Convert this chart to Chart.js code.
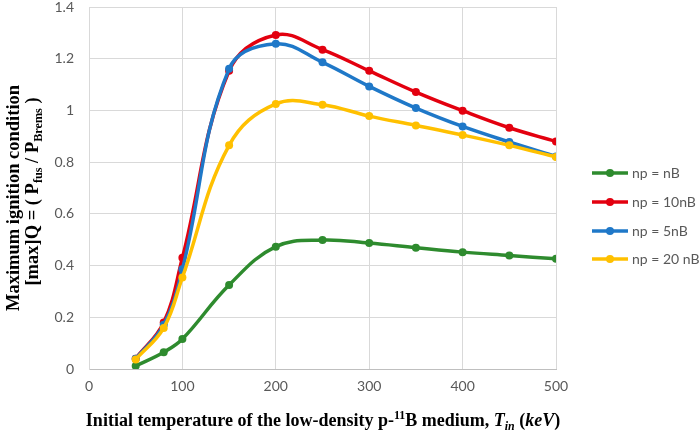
<!DOCTYPE html>
<html>
<head>
<meta charset="utf-8">
<script src="https://cdn.jsdelivr.net/npm/chart.js@4.4.1/dist/chart.umd.min.js"></script>
<style>
  html, body { margin: 0; padding: 0; background: #fff; }
  #wrap { width: 699px; height: 432px; position: relative; }
</style>
</head>
<body>
<div id="wrap"><canvas id="myChart"></canvas></div>
<script>
// temperatures (keV)
const temps = [50, 80, 100, 150, 200, 250, 300, 350, 400, 450, 500]

// max Q for each density ratio
const qNB   = [0.012, 0.065, 0.116, 0.325, 0.473, 0.499, 0.487, 0.469, 0.452, 0.439, 0.426]
const q10NB = [0.04, 0.18, 0.43, 1.153, 1.292, 1.235, 1.153, 1.071, 0.999, 0.933, 0.880]
const q5NB  = [0.04, 0.171, 0.386, 1.161, 1.258, 1.186, 1.093, 1.009, 0.938, 0.878, 0.822]
const q20NB = [0.037, 0.159, 0.354, 0.865, 1.025, 1.022, 0.978, 0.942, 0.905, 0.865, 0.820]

const seriesNames = ["np = nB", "np = 10nB", "np = 5nB", "np = 20 nB"]
const seriesColors = ["#2e8b2e", "#e3000f", "#1f78c8", "#ffc000"]

const xTicks = [0, 100, 200, 300, 400, 500]
const yTicks = ["0", "0.2", "0.4", "0.6", "0.8", "1", "1.2", "1.4"]

const toPoints = (vals) => temps.map((t, i) => ({ x: t, y: vals[i] }))
const allSeries = [qNB, q10NB, q5NB, q20NB]

const datasets = allSeries.map((vals, i) => ({
  label: seriesNames[i],
  data: toPoints(vals),
  borderColor: seriesColors[i],
  backgroundColor: seriesColors[i],
  borderWidth: 3.5,
  pointRadius: 4,
  pointHoverRadius: 4,
  pointBorderWidth: 0,
  tension: 0.4,
  order: 4 - i
}))

const serif = '"Liberation Serif", "Times New Roman", serif'
const sans = 'Lato, "Open Sans", sans-serif'

// draws a line of text made of runs (normal / sub / sup / italic), centred on x
function drawRuns(ctx, runs, x, y, size) {
  const fontFor = (r) => (r.italic ? "italic " : "") + "bold " +
    ((r.sub || r.sup) ? (size * 0.66).toFixed(1) : size) + "px " + serif
  let total = 0
  runs.forEach(r => { ctx.font = fontFor(r); r.w = ctx.measureText(r.t).width; total += r.w })
  let cx = x - total / 2
  ctx.textAlign = "left"
  ctx.textBaseline = "alphabetic"
  runs.forEach(r => {
    ctx.font = fontFor(r)
    let dy = 0
    if (r.sub) dy = size * 0.22
    if (r.sup) dy = -size * 0.38
    ctx.fillText(r.t, cx, y + dy)
    cx += r.w
  })
}

const titlesAndLegend = {
  id: "titlesAndLegend",
  afterDraw(chart) {
    const ctx = chart.ctx
    ctx.save()
    ctx.fillStyle = "#000"

    // x axis title
    drawRuns(ctx, [
      { t: "Initial temperature of the low-density p-" },
      { t: "11", sup: true },
      { t: "B medium, " },
      { t: "T", italic: true },
      { t: "in", italic: true, sub: true },
      { t: " (" },
      { t: "keV", italic: true },
      { t: ")" }
    ], 323, 426, 18)

    // y axis title (two lines, rotated)
    ctx.save()
    ctx.translate(18.5, 198)
    ctx.rotate(-Math.PI / 2)
    drawRuns(ctx, [{ t: "Maximum ignition condition" }], 0, 0, 18.5)
    ctx.restore()
    ctx.save()
    ctx.translate(38, 191.5)
    ctx.rotate(-Math.PI / 2)
    drawRuns(ctx, [
      { t: "[max]Q = ( P" },
      { t: "fus", sub: true },
      { t: " / P" },
      { t: "Brems", sub: true },
      { t: " )" }
    ], 0, 0, 18.5)
    ctx.restore()

    // legend
    const legendY = [173, 202, 231, 259]
    seriesNames.forEach((name, i) => {
      const y = legendY[i]
      ctx.strokeStyle = seriesColors[i]
      ctx.fillStyle = seriesColors[i]
      ctx.lineWidth = 3.5
      ctx.beginPath()
      ctx.moveTo(592, y)
      ctx.lineTo(628, y)
      ctx.stroke()
      ctx.beginPath()
      ctx.arc(610, y, 4, 0, Math.PI * 2)
      ctx.fill()
      ctx.fillStyle = "#595959"
      ctx.font = "14px " + sans
      ctx.textAlign = "left"
      ctx.textBaseline = "middle"
      ctx.fillText(name, 632, y)
    })
    ctx.restore()
  }
}

const ctx = document.getElementById("myChart").getContext("2d")
const myChart = new Chart(ctx, {
  type: "line",
  data: { datasets: datasets },
  options: {
    responsive: true,
    maintainAspectRatio: false,
    animation: false,
    layout: { padding: { top: 7, right: 143, left: 0, bottom: 0 } },
    plugins: {
      legend: { display: false },
      tooltip: { enabled: false }
    },
    scales: {
      x: {
        type: "linear",
        min: 0,
        max: 500,
        afterBuildTicks: (scale) => { scale.ticks = xTicks.map(v => ({ value: v })) },
        afterFit: (scale) => { scale.height = 63; scale.paddingLeft = 0; scale.paddingRight = 0 },
        ticks: { color: "#595959", font: { family: sans, size: 14 }, padding: 9 },
        grid: { color: "#d9d9d9", lineWidth: 1, drawTicks: false },
        border: { color: "#bfbfbf" }
      },
      y: {
        min: 0,
        max: 1.4,
        afterBuildTicks: (scale) => { scale.ticks = yTicks.map(v => ({ value: parseFloat(v) })) },
        afterFit: (scale) => { scale.width = 89; scale.paddingTop = 0; scale.paddingBottom = 0 },
        ticks: {
          color: "#595959",
          font: { family: sans, size: 14 },
          padding: 15,
          callback: (v, i) => yTicks[i]
        },
        grid: { color: "#d9d9d9", lineWidth: 1, drawTicks: false },
        border: { color: "#d9d9d9" }
      }
    }
  },
  plugins: [titlesAndLegend]
})
</script>
</body>
</html>
